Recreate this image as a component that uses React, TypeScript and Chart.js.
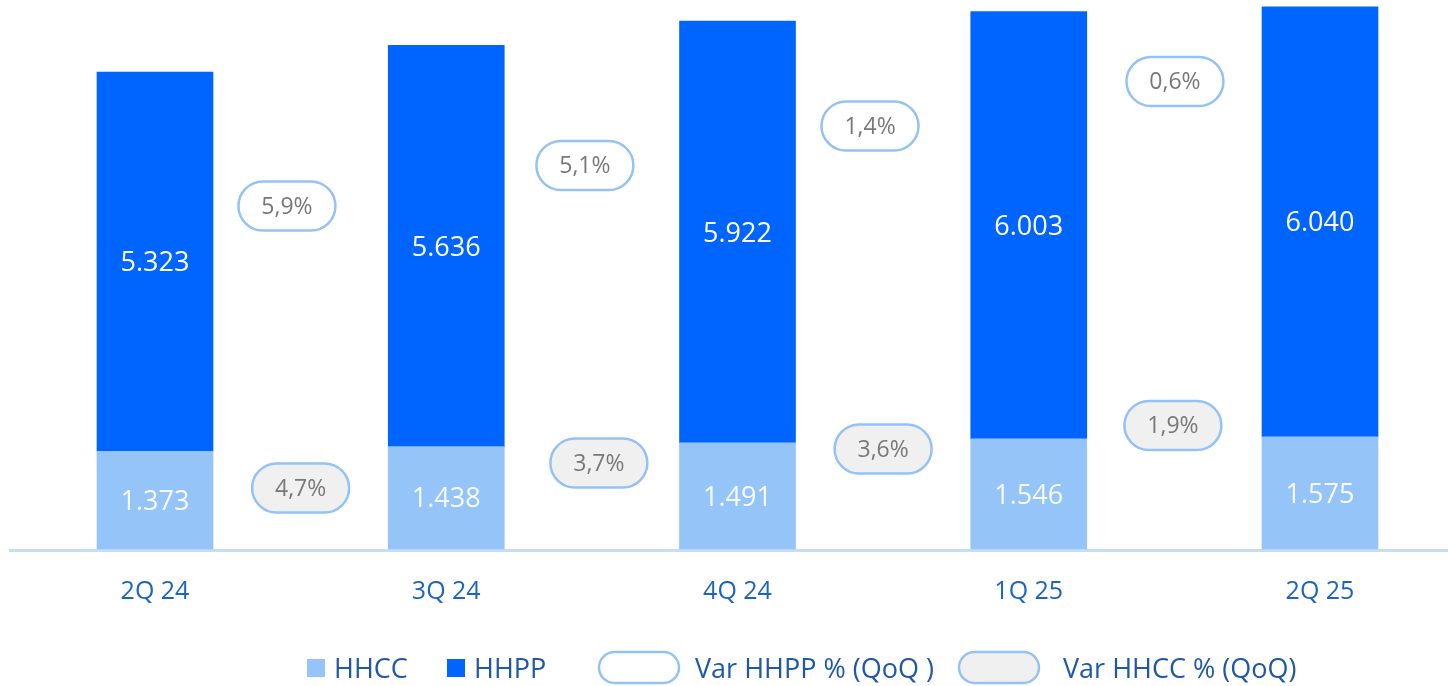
import React, { useEffect, useRef } from 'react';
import { Chart, registerables } from 'chart.js';

Chart.register(...registerables);

const categories = ['2Q 24', '3Q 24', '4Q 24', '1Q 25', '2Q 25'];
const hhcc = [1373, 1438, 1491, 1546, 1575];
const hhpp = [5323, 5636, 5922, 6003, 6040];

const varHHPP = [5.9, 5.1, 1.4, 0.6];
const varHHPPx = [0.453, 1.476, 2.455, 3.502];
const varHHPPy = [4817, 5386, 5940, 6565];

const varHHCC = [4.7, 3.7, 3.6, 1.9];
const varHHCCx = [0.5, 1.524, 2.5, 3.495];
const varHHCCy = [857, 1208, 1404, 1734];

const legendLabels = ['HHCC', 'HHPP', 'Var HHPP % (QoQ )', 'Var HHCC % (QoQ)'];

const C_HHCC = '#95C4F8';
const C_HHPP = '#0064FF';
const C_PILL_BORDER = '#95C2F5';
const C_PILL_GRAY = '#F0F0F0';
const C_PILL_TEXT = '#787878';
const C_AXIS_TEXT = '#1B64C4';
const C_LEGEND_TEXT = '#1F58A8';
const FONT = '"Open Sans", "Noto Sans", sans-serif';

const fmtThousands = (n: number) => String(n).replace(/\B(?=(\d{3})+(?!\d))/g, '.');
const fmtPct = (n: number) => n.toFixed(1).replace('.', ',') + '%';

function pill(ctx: CanvasRenderingContext2D, cx: number, cy: number, w: number, h: number, fill: string) {
  ctx.beginPath();
  ctx.roundRect(cx - w / 2, cy - h / 2, w, h, h / 2);
  ctx.fillStyle = fill;
  ctx.fill();
  ctx.lineWidth = 2.5;
  ctx.strokeStyle = C_PILL_BORDER;
  ctx.stroke();
}

const baselinePlugin = {
  id: 'baselinePlugin',
  beforeDatasetsDraw(chart: any) {
    const { ctx } = chart;
    const y = chart.scales.y.getPixelForValue(0);
    ctx.save();
    ctx.strokeStyle = '#C6DDF7';
    ctx.lineWidth = 3;
    ctx.beginPath();
    ctx.moveTo(9, y + 1.5);
    ctx.lineTo(chart.width, y + 1.5);
    ctx.stroke();
    ctx.restore();
  },
};

const labelsPlugin = {
  id: 'labelsPlugin',
  afterDatasetsDraw(chart: any) {
    const { ctx } = chart;
    ctx.save();
    ctx.font = `27px ${FONT}`;
    ctx.textAlign = 'center';
    ctx.textBaseline = 'middle';
    [0, 1].forEach((di) => {
      const meta = chart.getDatasetMeta(di);
      const vals = chart.data.datasets[di].data as number[];
      meta.data.forEach((el: any, i: number) => {
        ctx.fillStyle = di === 0 ? 'rgba(255,255,255,0.92)' : '#FFFFFF';
        ctx.fillText(fmtThousands(vals[i]), el.x, (el.y + el.base) / 2 + 2);
      });
    });
    const pillSets: [number, number[], string][] = [
      [2, varHHPP, '#FFFFFF'],
      [3, varHHCC, C_PILL_GRAY],
    ];
    pillSets.forEach(([di, vals, fill]) => {
      const meta = chart.getDatasetMeta(di);
      meta.data.forEach((el: any, i: number) => {
        pill(ctx, el.x, el.y, 97, 49, fill);
        ctx.fillStyle = C_PILL_TEXT;
        ctx.font = `23px ${FONT}`;
        ctx.textAlign = 'center';
        ctx.textBaseline = 'middle';
        ctx.fillText(fmtPct(vals[i]), el.x, el.y + 1);
      });
    });
    ctx.restore();
  },
};

const legendPlugin = {
  id: 'customLegend',
  afterDraw(chart: any) {
    const { ctx } = chart;
    ctx.save();
    const textY = 678;
    ctx.font = `27px ${FONT}`;
    ctx.textAlign = 'left';
    ctx.textBaseline = 'alphabetic';
    ctx.fillStyle = C_HHCC;
    ctx.fillRect(307, 659, 18, 18);
    ctx.fillStyle = C_LEGEND_TEXT;
    ctx.fillText(legendLabels[0], 334, textY);
    ctx.fillStyle = C_HHPP;
    ctx.fillRect(447, 659, 18, 18);
    ctx.fillStyle = C_LEGEND_TEXT;
    ctx.fillText(legendLabels[1], 474, textY);
    pill(ctx, 639, 667.5, 80, 31, '#FFFFFF');
    ctx.fillStyle = C_LEGEND_TEXT;
    ctx.fillText(legendLabels[2], 695, textY);
    pill(ctx, 999, 667.5, 80, 31, C_PILL_GRAY);
    ctx.fillStyle = C_LEGEND_TEXT;
    ctx.fillText(legendLabels[3], 1063, textY);
    ctx.restore();
  },
};

export default function App() {
  const ref = useRef<HTMLCanvasElement | null>(null);

  useEffect(() => {
    if (!ref.current) return;
    const chart = new Chart(ref.current, {
      type: 'bar',
      data: {
        labels: categories,
        datasets: [
          {
            label: 'HHCC',
            data: hhcc,
            backgroundColor: C_HHCC,
            barThickness: 116,
            stack: 'bars',
            grouped: false,
            clip: false as any,
            order: 2,
          } as any,
          {
            label: 'HHPP',
            data: hhpp,
            backgroundColor: C_HHPP,
            barThickness: 116,
            stack: 'bars',
            grouped: false,
            clip: false as any,
            order: 2,
          } as any,
          {
            type: 'scatter',
            label: 'Var HHPP % (QoQ )',
            data: varHHPP.map((_, i) => ({ x: varHHPPx[i], y: varHHPPy[i] })),
            xAxisID: 'x2',
            yAxisID: 'y',
            stack: 'vhhpp',
            pointRadius: 0,
            showLine: false,
            clip: false as any,
            order: 1,
          } as any,
          {
            type: 'scatter',
            label: 'Var HHCC % (QoQ)',
            data: varHHCC.map((_, i) => ({ x: varHHCCx[i], y: varHHCCy[i] })),
            xAxisID: 'x2',
            yAxisID: 'y',
            stack: 'vhhcc',
            pointRadius: 0,
            showLine: false,
            clip: false as any,
            order: 1,
          } as any,
        ],
      },
      options: {
        animation: false,
        responsive: true,
        maintainAspectRatio: false,
        layout: { padding: { left: 155, right: 128, top: 0, bottom: 77 } },
        plugins: {
          legend: { display: false },
          tooltip: { enabled: false },
        },
        scales: {
          x: {
            type: 'category',
            stacked: true,
            offset: false,
            grid: { display: false, drawTicks: false, offset: false },
            border: { display: false },
            ticks: {
              color: C_AXIS_TEXT,
              font: { family: FONT, size: 25 },
              padding: 28,
              maxRotation: 0,
              autoSkip: false,
            },
            afterFit: (scale: any) => {
              scale.height = 60;
            },
          },
          x2: {
            type: 'linear',
            display: false,
            min: 0,
            max: 4,
            offset: false,
          },
          y: {
            stacked: true,
            display: false,
            min: 0,
            max: 7710,
          },
        },
      } as any,
      plugins: [baselinePlugin, labelsPlugin, legendPlugin],
    });
    return () => chart.destroy();
  }, []);

  return (
    <div style={{ position: 'fixed', left: 0, top: 0, width: 1448, height: 686, background: '#FFFFFF' }}>
      <canvas ref={ref} />
    </div>
  );
}
